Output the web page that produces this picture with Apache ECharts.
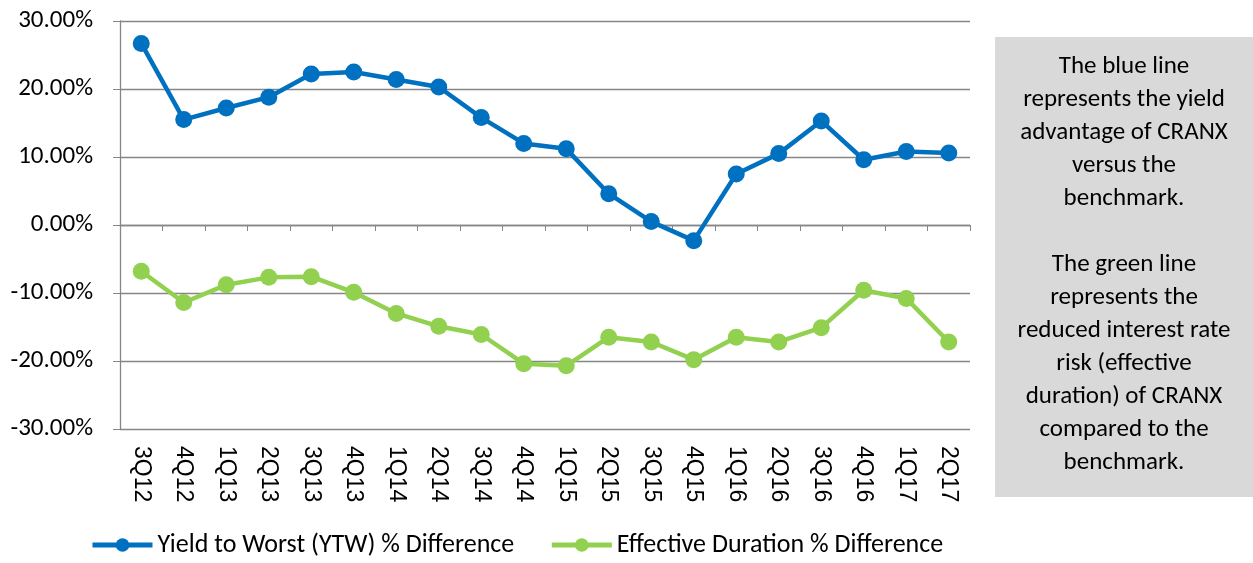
<!DOCTYPE html>
<html>
<head>
<meta charset="utf-8">
<script src="https://cdn.jsdelivr.net/npm/echarts@6/dist/echarts.min.js"></script>
<style>html,body{margin:0;padding:0;background:#fff}#c{width:1253px;height:563px}</style>
</head>
<body>
<div id="c"></div>
<script>
const categories = ['3Q12','4Q12','1Q13','2Q13','3Q13','4Q13','1Q14','2Q14','3Q14','4Q14','1Q15','2Q15','3Q15','4Q15','1Q16','2Q16','3Q16','4Q16','1Q17','2Q17'];
const ytwDiff = [26.7, 15.5, 17.2, 18.8, 22.2, 22.5, 21.4, 20.3, 15.8, 12.0, 11.2, 4.6, 0.5, -2.3, 7.5, 10.5, 15.3, 9.6, 10.8, 10.6];
const durDiff = [-6.8, -11.4, -8.8, -7.7, -7.6, -9.9, -13.0, -14.9, -16.1, -20.4, -20.7, -16.5, -17.2, -19.8, -16.5, -17.2, -15.1, -9.6, -10.8, -17.2];
const seriesNames = ['Yield to Worst (YTW) % Difference', 'Effective Duration % Difference'];
const noteText = 'The blue line\nrepresents the yield\nadvantage of CRANX\nversus the\nbenchmark.\n\nThe green line\nrepresents the\nreduced interest rate\nrisk (effective\nduration) of CRANX\ncompared to the\nbenchmark.';

const FONT = 'Carlito, Lato, "Liberation Sans", sans-serif';
const chart = echarts.init(document.getElementById('c'), null, {renderer: 'canvas'});
chart.setOption({
  animation: false,
  textStyle: {fontFamily: FONT},
  grid: {left: 120, right: 283, top: 21, bottom: 134},
  legend: {
    left: 85, bottom: 0,
    itemWidth: 60, itemHeight: 17, itemGap: 35,
    lineStyle: {width: 5},
    textStyle: {fontSize: 26, color: '#000', fontFamily: FONT},
    data: seriesNames
  },
  xAxis: [
    {
      type: 'category', data: categories, boundaryGap: true,
      axisLine: {onZero: true, lineStyle: {color: '#868686', width: 1.3}},
      axisTick: {show: true, length: 6, lineStyle: {color: '#868686'}},
      axisLabel: {show: false}
    },
    {
      type: 'category', data: categories, boundaryGap: true, position: 'bottom',
      axisLine: {show: false, onZero: false}, axisTick: {show: false},
      axisLabel: {rotate: -90, fontSize: 23, color: '#000', margin: 17, fontFamily: '"Liberation Sans", Arial, sans-serif'}
    }
  ],
  yAxis: {
    type: 'value', min: -30, max: 30, interval: 10,
    axisLine: {show: true, lineStyle: {color: '#868686', width: 1.3}},
    axisTick: {show: true, length: 7, lineStyle: {color: '#868686'}},
    splitLine: {lineStyle: {color: '#868686', width: 1.3}},
    axisLabel: {fontSize: 25, color: '#000', margin: 27, fontFamily: FONT, formatter: v => v.toFixed(2) + '%'}
  },
  series: [
    {
      name: seriesNames[0], type: 'line', data: ytwDiff, xAxisIndex: 0,
      symbol: 'circle', symbolSize: 17,
      lineStyle: {color: '#0070C0', width: 4.5},
      itemStyle: {color: '#0070C0'}
    },
    {
      name: seriesNames[1], type: 'line', data: durDiff, xAxisIndex: 0,
      symbol: 'circle', symbolSize: 17,
      lineStyle: {color: '#92D050', width: 4.5},
      itemStyle: {color: '#92D050'}
    }
  ],
  graphic: [
    {type: 'rect', x: 995, y: 37, shape: {x: 0, y: 0, width: 258, height: 460}, style: {fill: '#D9D9D9'}},
    {type: 'text', x: 1124, y: 50,
     style: {text: noteText, textAlign: 'center', textVerticalAlign: 'top', fontSize: 25, lineHeight: 33, fill: '#000', fontFamily: FONT}}
  ]
});
</script>
</body>
</html>
